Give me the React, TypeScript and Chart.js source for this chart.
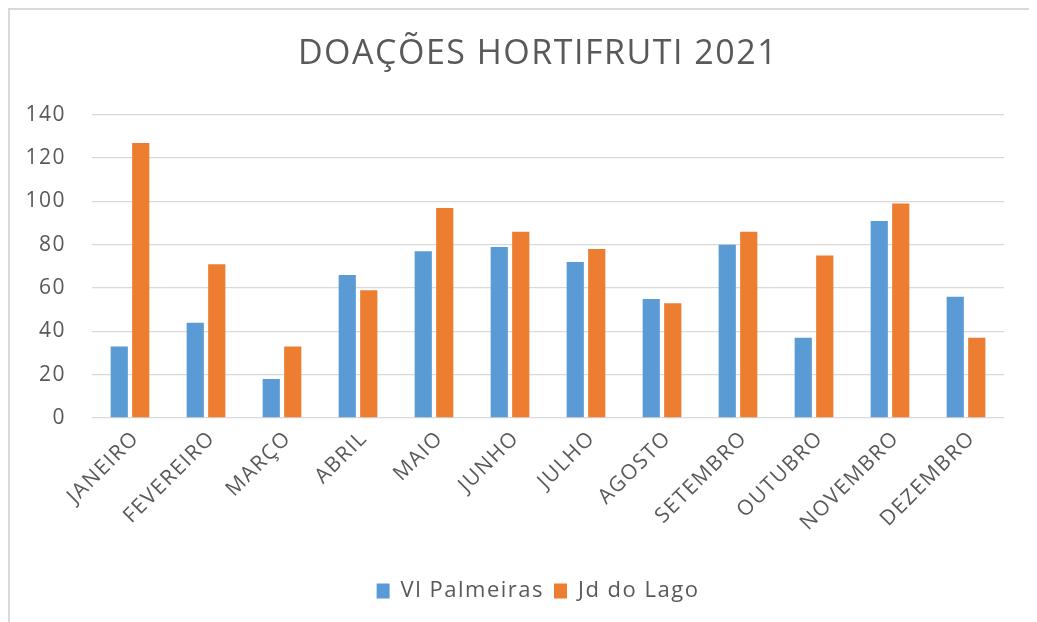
import React, { useEffect, useRef } from "react";
import { Chart, registerables } from "chart.js";

Chart.register(...registerables);

const categories = ["JANEIRO", "FEVEREIRO", "MARÇO", "ABRIL", "MAIO", "JUNHO", "JULHO", "AGOSTO", "SETEMBRO", "OUTUBRO", "NOVEMBRO", "DEZEMBRO"];
const vlPalmeiras = [33, 44, 18, 66, 77, 79, 72, 55, 80, 37, 91, 56];
const jdDoLago = [127, 71, 33, 59, 97, 86, 78, 53, 86, 75, 99, 37];
const yTicks = [0, 20, 40, 60, 80, 100, 120, 140];
const seriesNames = ["Vl Palmeiras", "Jd do Lago"];
const titleText = "DOAÇÕES HORTIFRUTI 2021";

const FONT = "'Open Sans', 'DejaVu Sans', sans-serif";
const TEXT = "#595959";

const spacingPlugin = {
  id: "letterSpacing",
  beforeUpdate(chart: any) {
    chart.ctx.letterSpacing = "1.5px";
  },
  beforeLayout(chart: any) {
    chart.ctx.letterSpacing = "1.5px";
  },
  beforeDraw(chart: any) {
    chart.ctx.letterSpacing = "1.5px";
  },
};

export default function App() {
  const ref = useRef<HTMLCanvasElement | null>(null);
  useEffect(() => {
    const canvas = ref.current!;
    const ctx = canvas.getContext("2d")!;
    const chart = new Chart(ctx, {
      type: "bar",
      data: {
        labels: categories,
        datasets: [
          {
            label: seriesNames[0],
            data: vlPalmeiras,
            backgroundColor: "#5B9BD5",
            borderWidth: 0,
            categoryPercentage: 0.566,
            barPercentage: 0.8,
          },
          {
            label: seriesNames[1],
            data: jdDoLago,
            backgroundColor: "#ED7D31",
            borderWidth: 0,
            categoryPercentage: 0.566,
            barPercentage: 0.8,
          },
        ],
      },
      plugins: [spacingPlugin],
      options: {
        animation: false,
        responsive: false,
        maintainAspectRatio: false,
        layout: { padding: { left: 0, right: 4, top: 0, bottom: 10 } },
        plugins: {
          title: {
            display: true,
            text: titleText,
            color: TEXT,
            font: { family: FONT, size: 34, weight: "normal" },
            padding: { top: 24, bottom: 40 },
          },
          legend: {
            display: true,
            position: "bottom",
            labels: {
              color: TEXT,
              font: { family: FONT, size: 22 },
              boxWidth: 13,
              boxHeight: 15,
              padding: 10,
            },
          },
          tooltip: { enabled: false },
        },
        scales: {
          x: {
            grid: { display: false },
            border: { display: false },
            ticks: {
              color: TEXT,
              font: { family: FONT, size: 21 },
              minRotation: 45,
              maxRotation: 45,
              padding: 0,
              labelOffset: 6,
            },
            afterFit: (scale: any) => {
              scale.height = 152;
            },
          },
          y: {
            min: 0,
            max: 140,
            afterBuildTicks: (scale: any) => {
              scale.ticks = yTicks.map((v) => ({ value: v }));
            },
            grid: { color: "#D9D9D9", lineWidth: 1.3, drawTicks: false },
            border: { display: false },
            ticks: {
              color: TEXT,
              font: { family: FONT, size: 21 },
              padding: 26,
            },
            afterFit: (scale: any) => {
              scale.width = 82;
            },
          },
          yRight: {
            position: "right",
            min: 0,
            max: 140,
            grid: { display: false, drawTicks: false },
            border: { display: false },
            ticks: { display: false },
            afterFit: (scale: any) => {
              scale.width = 62;
            },
          },
        },
      },
    });
    return () => chart.destroy();
  }, []);
  return (
    <div
      style={{
        width: 1029,
        height: 614,
        overflow: "hidden",
        boxSizing: "border-box",
        borderLeft: "2px solid #D9D9D9",
        borderTop: "2px solid #D9D9D9",
        background: "#fff",
      }}
    >
      <canvas ref={ref} width={1060} height={612} style={{ display: "block" }} />
    </div>
  );
}
